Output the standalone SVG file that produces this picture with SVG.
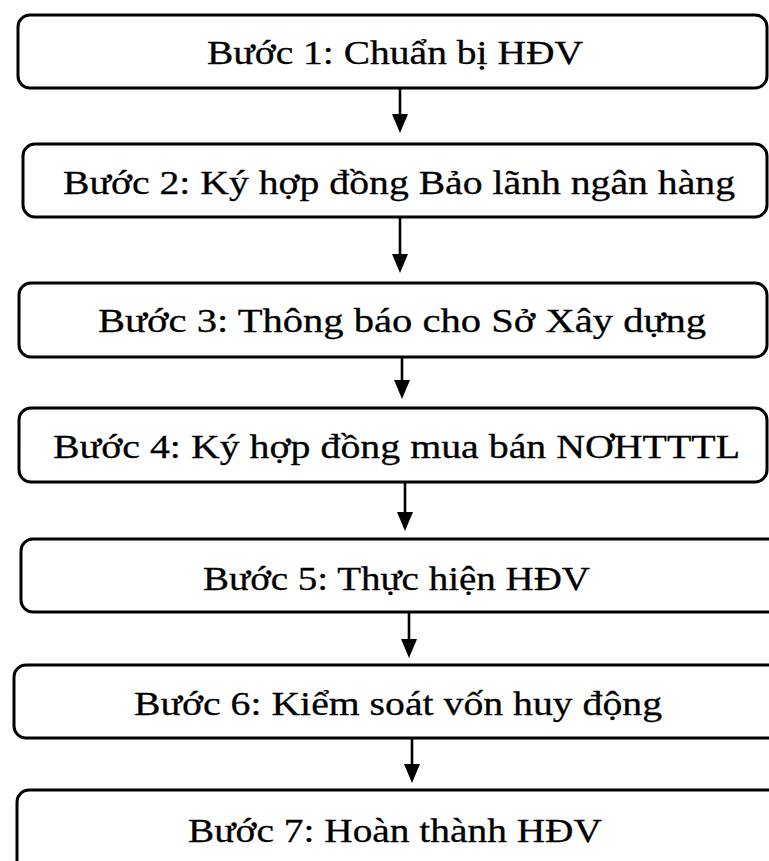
<svg xmlns="http://www.w3.org/2000/svg" width="769" height="861" viewBox="0 0 769 861">
<defs>
<style>
.box{fill:#fff;stroke:#000;stroke-width:3}
.lbl{font-family:"Liberation Serif","Times New Roman",serif;font-size:34px;fill:#000;stroke:#000;stroke-width:0.3}
.con{stroke:#000;stroke-width:2.6;fill:none;marker-end:url(#ah)}
</style>
<marker id="ah" markerUnits="userSpaceOnUse" markerWidth="19" markerHeight="18" viewBox="0 0 19 16" refX="9" refY="8" orient="auto">
<path d="M0,0 L19,8 L0,16 z" fill="#000"/>
</marker>
</defs>
<rect width="769" height="861" fill="#fff"/>
<g id="connectors">
<line class="con" x1="400" y1="88" x2="400" y2="123"/>
<line class="con" x1="400" y1="217" x2="400" y2="263"/>
<line class="con" x1="402" y1="357" x2="402" y2="389"/>
<line class="con" x1="405" y1="482" x2="405" y2="521"/>
<line class="con" x1="409" y1="612" x2="409" y2="648"/>
<line class="con" x1="412" y1="738" x2="412" y2="773"/>
</g>
<g id="step1">
<rect class="box" x="18" y="15" width="749" height="73" rx="12"/>
<text class="lbl" x="207" y="64" textLength="376" lengthAdjust="spacingAndGlyphs">Bước 1: Chuẩn bị HĐV</text>
</g>
<g id="step2">
<rect class="box" x="23" y="144" width="744" height="73" rx="12"/>
<text class="lbl" x="63" y="194" textLength="672" lengthAdjust="spacingAndGlyphs">Bước 2: Ký hợp đồng Bảo lãnh ngân hàng</text>
</g>
<g id="step3">
<rect class="box" x="19" y="283" width="748" height="74" rx="12"/>
<text class="lbl" x="98" y="332" textLength="608" lengthAdjust="spacingAndGlyphs">Bước 3: Thông báo cho Sở Xây dựng</text>
</g>
<g id="step4">
<rect class="box" x="19" y="408" width="748" height="74" rx="12"/>
<text class="lbl" x="53" y="458" textLength="687" lengthAdjust="spacingAndGlyphs">Bước 4: Ký hợp đồng mua bán NƠHTTTL</text>
</g>
<g id="step5">
<rect class="box" x="21" y="539" width="760" height="73" rx="12"/>
<text class="lbl" x="203" y="590" textLength="387" lengthAdjust="spacingAndGlyphs">Bước 5: Thực hiện HĐV</text>
</g>
<g id="step6">
<rect class="box" x="14" y="665" width="767" height="73" rx="12"/>
<text class="lbl" x="134" y="715" textLength="528" lengthAdjust="spacingAndGlyphs">Bước 6: Kiểm soát vốn huy động</text>
</g>
<g id="step7">
<rect class="box" x="17" y="790" width="764" height="90" rx="12"/>
<text class="lbl" x="188" y="842" textLength="414" lengthAdjust="spacingAndGlyphs">Bước 7: Hoàn thành HĐV</text>
</g>
</svg>
